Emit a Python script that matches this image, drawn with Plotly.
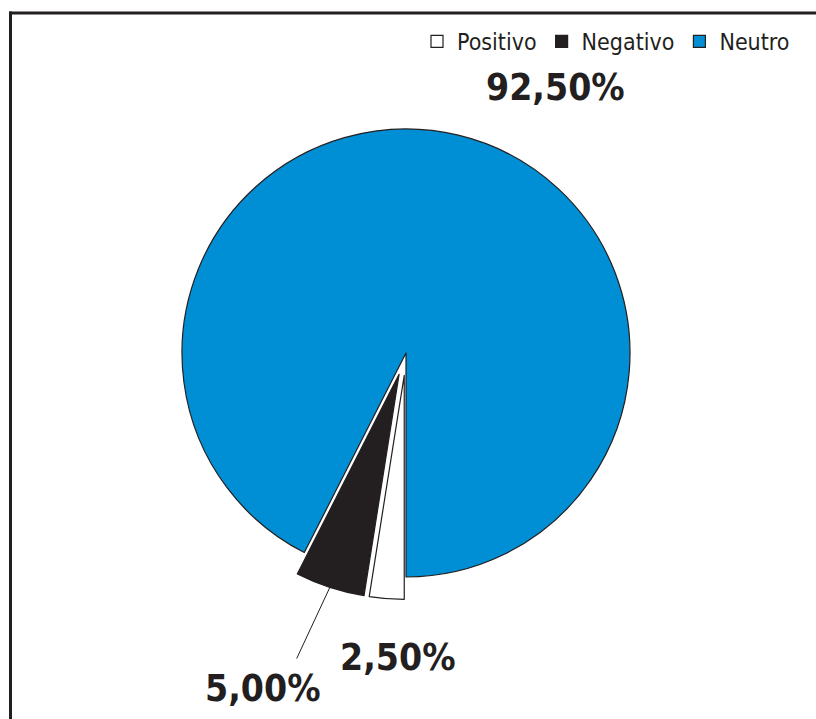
import math
import plotly.graph_objects as go

# ---- data ----
categories = ["Positivo", "Negativo", "Neutro"]
values = [2.5, 5.0, 92.5]
colors = ["#ffffff", "#231f20", "#008fd5"]
pulls = [0.1, 0.1, 0.0]
label_texts = [f"{v:.2f}".replace(".", ",") + "%" for v in values]

W, H = 816, 719
INK = "#231f20"
FONT = "Liberation Sans Narrow, DejaVu Sans Condensed, Arial Narrow, sans-serif"


def px(x):  # pixel x -> paper x
    return x / W


def py(y):  # pixel y (from top) -> paper y
    return 1 - y / H


# pie geometry (pixels)
cx, cy, r = 406, 353, 224
max_pull = max(pulls)
box = 2 * r * (1 + max_pull)
dom_y = [py(cy + box / 2), py(cy - box / 2)]
half_w = min(cx, W - cx)
dom_x = [px(cx - half_w), px(cx + half_w)]

fig = go.Figure(go.Pie(
    labels=categories,
    values=values,
    sort=False,
    direction="clockwise",
    rotation=180,
    pull=pulls,
    marker=dict(colors=colors, line=dict(color=INK, width=1.2)),
    textinfo="none",
    hoverinfo="label+percent",
    domain=dict(x=dom_x, y=dom_y),
))

# leader line endpoint: middle of pulled Negativo slice outer edge (from data)
total = sum(values)
acc = 180.0
mids = []
for v in values:
    a0 = acc
    acc += v / total * 360
    mids.append((a0 + acc) / 2)
mid = math.radians(mids[1])
rr = r * (1 + pulls[1])
hx = cx + rr * math.sin(mid)
hy = cy - rr * math.cos(mid)

label_pos = [(397, 657), (262, 688), (555, 88)]  # Positivo, Negativo, Neutro
annotations = []
for (lx, ly), t in zip(label_pos, label_texts):
    annotations.append(dict(
        x=px(lx), y=py(ly), xref="paper", yref="paper",
        text=t, showarrow=False, xanchor="center", yanchor="middle",
        font=dict(family=FONT, size=37, color=INK, weight="bold"),
    ))
# leader line
annotations.append(dict(
    x=px(hx), y=py(hy), xref="paper", yref="paper",
    text="", showarrow=True, arrowhead=0, arrowwidth=1, arrowcolor=INK,
    ax=296 - hx, ay=660 - hy, standoff=0,
))

fig.update_layout(
    width=W, height=H,
    margin=dict(l=0, r=0, t=0, b=0),
    paper_bgcolor="white",
    showlegend=True,
    legend=dict(
        orientation="h", x=px(795), xanchor="right", y=py(20), yanchor="top",
        font=dict(family=FONT, size=23, color=INK),
        itemwidth=30, bgcolor="rgba(0,0,0,0)",
    ),
    annotations=annotations,
    shapes=[
        dict(type="line", xref="paper", yref="paper",
             x0=px(9), x1=1.0, y0=py(13), y1=py(13),
             line=dict(color=INK, width=3), layer="above"),
        dict(type="line", xref="paper", yref="paper",
             x0=px(10.5), x1=px(10.5), y0=py(11.5), y1=0.0,
             line=dict(color=INK, width=3), layer="above"),
    ],
)

fig.write_html(
    "out.html",
    config={"displayModeBar": False},
    post_script="document.body.style.margin='0';document.body.style.overflow='hidden';",
)
